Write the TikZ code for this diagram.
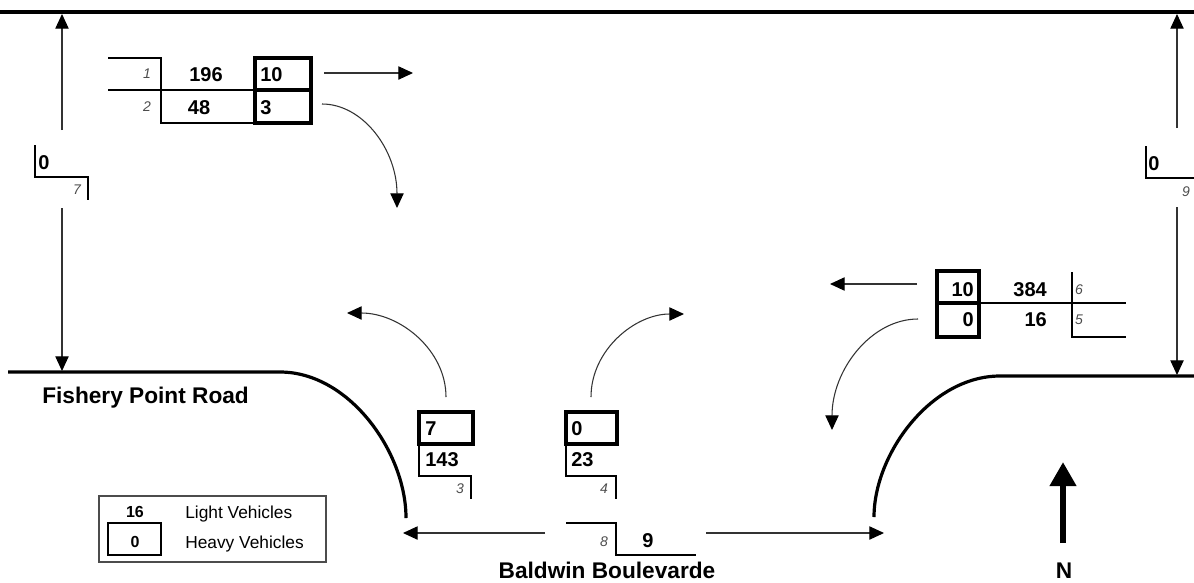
\documentclass[tikz,border=0pt]{standalone}
\usepackage{fontspec}
\setmainfont{Liberation Sans}
\usetikzlibrary{arrows.meta}

\begin{document}
\begin{tikzpicture}[
		x=0.75pt, y=-0.75pt,
		road/.style={line width=2.4pt},
		thinline/.style={line width=0.8pt},
		hvbox/.style={line width=2.4pt},
		flow/.style={draw=black!80, line width=0.8pt, -{Triangle[length=11pt,width=10pt,color=black]}},
		num/.style={font=\bfseries\fontsize{15}{15}\selectfont, inner sep=0pt},
		lane/.style={font=\itshape\fontsize{10.5}{10.5}\selectfont, text=black!70, inner sep=0pt},
		roadname/.style={font=\bfseries\fontsize{17}{17}\selectfont, inner sep=0pt},
		legend/.style={font=\fontsize{13}{13}\selectfont, inner sep=0pt}]
	\useasboundingbox (0,0) rectangle (1194,582);
	%% roads
	\draw[road] (0,12) -- (1194,12);
	\draw[road] (8,372) -- (280,372) .. controls (349,372) and (406,452) .. (406,518);
	\draw[road] (1194,376) -- (1000,376) .. controls (931,376) and (874,454) .. (874,517);
	\node[roadname, anchor=base west] (fishery) at (42,403) {Fishery Point Road};
	\node[roadname, anchor=base] (baldwin) at (607,578) {Baldwin Boulevarde};
	%% west approach
	\draw[thinline] (108,58) -- (161,58) -- (161,123) -- (255,123);
	\draw[thinline] (108,90) -- (255,90);
	\draw[hvbox] (255,58) rectangle (311,123) (255,90) -- (311,90);
	\node[lane] (l1) at (147,74) {1};
	\node[lane] (l2) at (147,107) {2};
	\node[num] (lv1) at (206,75) {196};
	\node[num] (lv2) at (199,108) {48};
	\node[num, anchor=west] (hv1) at (260,75) {10};
	\node[num, anchor=west] (hv2) at (260,108) {3};
	\draw[flow] (324,73) -- (413,73);
	\draw[flow] (322,104) .. controls (363,104) and (397,150) .. (397,208);
	%% east approach
	\draw[thinline] (979,303) -- (1126,303);
	\draw[thinline] (1072,272) -- (1072,337) -- (1126,337);
	\draw[hvbox] (937,271) rectangle (979,337) (937,303) -- (979,303);
	\node[num, anchor=east] (hv6) at (974,290) {10};
	\node[num, anchor=east] (hv5) at (974,320) {0};
	\node[num, anchor=east] (lv6) at (1047,290) {384};
	\node[num, anchor=east] (lv5) at (1047,320) {16};
	\node[lane] (l6) at (1079,290) {6};
	\node[lane] (l5) at (1079,320) {5};
	\draw[flow] (917,284) -- (830,284);
	\draw[flow] (918,319) .. controls (871,319) and (832,370) .. (832,430);
	%% south approach
	\draw[hvbox] (419,412) rectangle (473,444);
	\draw[thinline] (419,444) -- (419,476) -- (471,476) -- (471,499);
	\node[num, anchor=west] (hv3) at (425,429) {7};
	\node[num, anchor=west] (lv3) at (425,460) {143};
	\node[lane] (l3) at (460,489) {3};
	\draw[hvbox] (566,412) rectangle (617,444);
	\draw[thinline] (566,444) -- (566,476) -- (616,476) -- (616,499);
	\node[num, anchor=west] (hv4) at (571,429) {0};
	\node[num, anchor=west] (lv4) at (571,460) {23};
	\node[lane] (l4) at (604,489) {4};
	\draw[flow] (446,397) .. controls (446,350) and (400,313) .. (347,313);
	\draw[flow] (591,397) .. controls (591,350) and (635,314) .. (684,314);
	%% pedestrians / cross movements
	\draw[thinline] (35,145) -- (35,177) -- (88,177) -- (88,200);
	\node[num, anchor=west] (p7) at (38,163) {0};
	\node[lane] (l7) at (77,190) {7};
	\draw[flow] (62,130) -- (62,14);
	\draw[flow] (62,208) -- (62,371);
	\draw[thinline] (1146,146) -- (1146,178) -- (1194,178);
	\node[num, anchor=west] (p9) at (1148,164) {0};
	\node[lane] (l9) at (1186,192) {9};
	\draw[flow] (1177,128) -- (1177,14);
	\draw[flow] (1177,207) -- (1177,375);
	\draw[thinline] (566,523) -- (616,523) -- (616,555) -- (696,555);
	\node[lane] (l8) at (604,542) {8};
	\node[num] (p8) at (648,541) {9};
	\draw[flow] (545,533) -- (403,533);
	\draw[flow] (706,533) -- (884,533);
	%% legend
	\draw[thinline, draw=black!70] (99,496) rectangle (326,562);
	\draw[line width=1.7pt] (108,523) rectangle (161,555);
	\node[num, font=\bfseries\fontsize{12}{12}\selectfont] (leglv) at (135,512) {16};
	\node[num, font=\bfseries\fontsize{12}{12}\selectfont] (leghv) at (135,542) {0};
	\node[legend, anchor=base west] (legl) at (185,518) {Light Vehicles};
	\node[legend, anchor=base west] (legh) at (185,548) {Heavy Vehicles};
	%% north
	\draw[line width=4.5pt, -{Triangle[length=18pt,width=19pt]}] (1063,543) -- (1063,462);
	\node[roadname, anchor=base] (north) at (1064,578) {N};
\end{tikzpicture}
\end{document}
